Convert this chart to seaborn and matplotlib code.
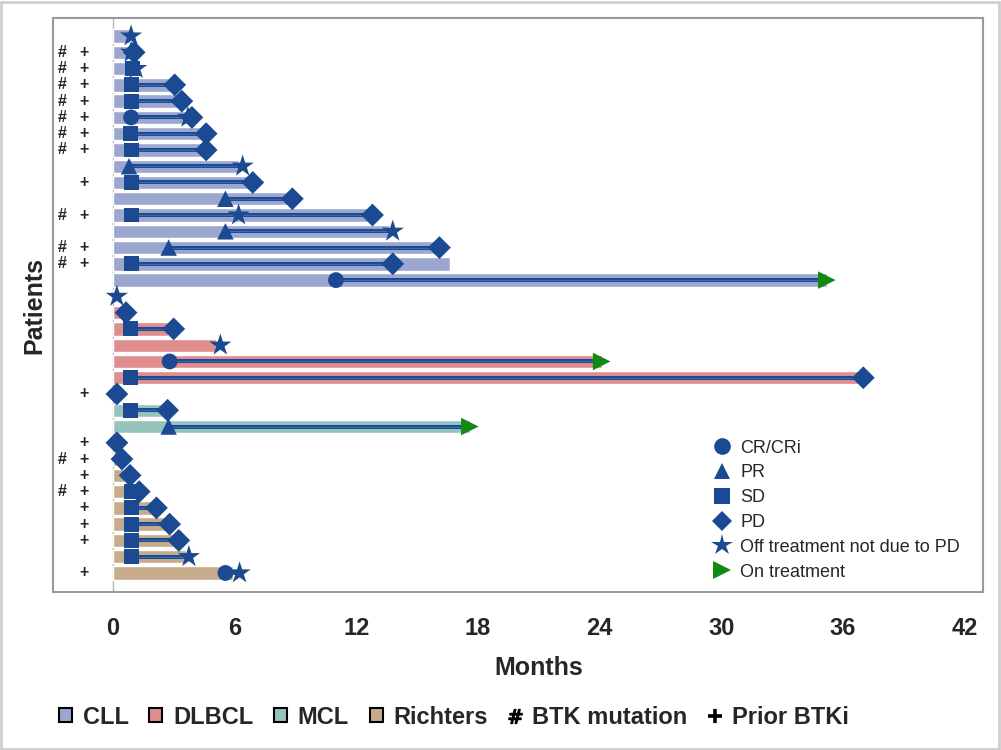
import matplotlib
matplotlib.use('Agg')
import numpy as np
import pandas as pd
import seaborn as sns
import matplotlib.pyplot as plt
from matplotlib.lines import Line2D
from matplotlib.patches import Patch, Rectangle

# === DATA (one entry per patient, top to bottom) ===
disease = ['CLL'] * 16 + ['DLBCL'] * 6 + ['MCL'] * 3 + ['Richters'] * 9
duration = [0.85, 0.9, 1.0, 2.9, 3.2, 3.7, 4.4, 4.5, 6.2, 6.7, 8.7, 12.6, 13.6, 15.9, 16.6, 35.2,
            0.1, 0.5, 2.7, 5.1, 24.1, 37.0,
            0.1, 2.5, 17.6,
            0.1, 0.3, 0.6, 1.1, 2.0, 2.6, 3.1, 3.6, 5.9]
nan = np.nan
resp_time = [nan, nan, 0.95, 0.9, 0.9, 0.9, 0.85, 0.9, 0.8, 0.9, 5.55, 0.9, 5.55, 2.75, 0.9, 11.0,
             nan, nan, 0.85, nan, 2.8, 0.85,
             nan, 0.85, 2.75,
             nan, nan, nan, 0.9, 0.9, 0.9, 0.9, 0.9, 5.55]
resp_type = ['', '', 'SD', 'SD', 'SD', 'CR', 'SD', 'SD', 'PR', 'SD', 'PR', 'SD', 'PR', 'PR', 'SD', 'CR',
             '', '', 'SD', '', 'CR', 'SD',
             '', 'SD', 'PR',
             '', '', '', 'SD', 'SD', 'SD', 'SD', 'SD', 'CR']
pd_time = [nan, 1.05, nan, 3.05, 3.4, 3.9, 4.6, 4.6, nan, 6.9, 8.85, 12.8, nan, 16.1, 13.8, nan,
           nan, 0.65, 3.0, nan, nan, 37.0,
           0.2, 2.7, nan,
           0.2, 0.45, 0.85, 1.3, 2.15, 2.8, 3.25, nan, nan]
off_time = [0.9, 0.9, 1.15, nan, nan, 3.7, nan, nan, 6.4, nan, nan, 6.2, 13.8, nan, nan, nan,
            0.2, nan, nan, 5.3, nan, nan,
            nan, nan, nan,
            nan, nan, nan, nan, nan, nan, nan, 3.75, 6.25]
on_time = [nan] * 15 + [35.2] + [nan] * 4 + [24.1] + [nan] * 3 + [17.6] + [nan] * 9
btk_mutation = [0, 1, 1, 1, 1, 1, 1, 1, 0, 0, 0, 1, 0, 1, 1, 0,
                0, 0, 0, 0, 0, 0,
                0, 0, 0,
                0, 1, 0, 1, 0, 0, 0, 0, 0]
prior_btki = [0, 1, 1, 1, 1, 1, 1, 1, 0, 1, 0, 1, 0, 1, 1, 0,
              0, 0, 0, 0, 0, 0,
              1, 0, 0,
              1, 1, 1, 1, 1, 1, 1, 0, 1]

disease_names = ['CLL', 'DLBCL', 'MCL', 'Richters']
disease_colors = ['#9CA7CF', '#E08D8D', '#97C3BD', '#C7AC8C']
response_labels = ['CR/CRi', 'PR', 'SD', 'PD', 'Off treatment not due to PD', 'On treatment']

dark_blue = '#1B4A92'
green = '#118A11'

df = pd.DataFrame({'patient': [f'P{i:02d}' for i in range(len(disease))],
                   'row': np.arange(len(disease)),
                   'disease': disease, 'duration': duration,
                   'resp_time': resp_time, 'resp_type': resp_type,
                   'pd_time': pd_time, 'off_time': off_time, 'on_time': on_time})

# events in long form for the markers
ev = []
for _, r in df.iterrows():
    if r['resp_type']:
        ev.append((r['row'], r['resp_time'], r['resp_type']))
    if not np.isnan(r['off_time']):
        ev.append((r['row'], r['off_time'], 'OFF'))
    if not np.isnan(r['pd_time']):
        ev.append((r['row'], r['pd_time'], 'PD'))
    if not np.isnan(r['on_time']):
        ev.append((r['row'], r['on_time'], 'ON'))
events = pd.DataFrame(ev, columns=['row', 'time', 'event'])

marker_map = {'CR': 'o', 'PR': '^', 'SD': 's', 'PD': 'D', 'OFF': '*', 'ON': '>'}
color_map = {'CR': dark_blue, 'PR': dark_blue, 'SD': dark_blue, 'PD': dark_blue, 'OFF': dark_blue, 'ON': green}
size_map = {'CR': 130, 'PR': 140, 'SD': 115, 'PD': 135, 'OFF': 280, 'ON': 160}

# === PLOT ===
sns.set_style('white')
plt.rcParams['font.family'] = ['Liberation Sans', 'DejaVu Sans']

fig, ax = plt.subplots(figsize=(10.01, 7.5), dpi=100)
fig.subplots_adjust(left=53 / 1001, right=983 / 1001, top=1 - 18 / 750, bottom=1 - 592 / 750)

ax.axvline(0, color='#b8b8b8', lw=1, zorder=0.5)

sns.barplot(data=df, x='duration', y='patient', hue='disease', hue_order=disease_names,
            palette=dict(zip(disease_names, disease_colors)), dodge=False, width=0.82,
            saturation=1, orient='h', legend=False, ax=ax, zorder=1)

# response -> end lines
for _, r in df.iterrows():
    if not r['resp_type']:
        continue
    end = np.nanmax([r['pd_time'], r['off_time'], r['on_time']])
    ax.plot([r['resp_time'], end], [r['row'], r['row']], color=dark_blue, lw=2.9,
            solid_capstyle='butt', zorder=2)
    ax.plot([r['resp_time'], end], [r['row'], r['row']], color='#3F68AC', lw=0.9,
            solid_capstyle='butt', zorder=2.1)

sns.scatterplot(data=events, x='time', y='row', hue='event', style='event', size='event',
                palette=color_map, markers=marker_map, sizes=size_map, linewidth=0,
                legend=False, ax=ax, zorder=3)

# BTK mutation / prior BTKi flags
for i in range(len(disease)):
    if btk_mutation[i]:
        ax.text(-2.5, i, '#', ha='center', va='center', fontsize=11.5, fontweight='bold')
    if prior_btki[i]:
        ax.text(-1.42, i, '+', ha='center', va='center', fontsize=11.5, fontweight='bold')

ax.set_xlim(-2.95, 42.9)
ax.set_ylim(34.17, -1.11)
ax.set_xticks(range(0, 43, 6))
ax.set_yticks([])
ax.tick_params(axis='x', direction='out', length=9, width=1, color='#888888',
               pad=9, labelsize=17)
for lab in ax.get_xticklabels():
    lab.set_fontweight('bold')
for sp in ax.spines.values():
    sp.set_color('#9a9a9a')
    sp.set_linewidth(1.5)

ax.set_xlabel('Months', fontsize=18, fontweight='bold')
ax.xaxis.set_label_coords(0.522, -0.112)
ax.set_ylabel('Patients', fontsize=18, fontweight='bold')
ax.yaxis.set_label_coords(-0.007, 0.5)

# response legend inside
resp_handles = [Line2D([], [], ls='none', marker=m, color=c, markersize=ms, markeredgewidth=0)
                for m, c, ms in zip(['o', '^', 's', 'D', '*', '>'],
                                    [dark_blue] * 5 + [green],
                                    [12, 12, 11, 10.5, 16, 13])]
ax.legend(resp_handles, response_labels, loc='upper left', bbox_to_anchor=(0.698, 0.281),
          frameon=False, fontsize=13, labelspacing=0.43, handletextpad=0.4,
          handlelength=1.2, borderpad=0)

# disease / flag legend below
bottom_handles = [Patch(facecolor=c, edgecolor='black', lw=1.5) for c in disease_colors]
bottom_handles += [Line2D([], [], ls='none', marker='$\\#$', color='black', markersize=10),
                   Line2D([], [], ls='none', marker='+', color='black', markersize=10,
                          markeredgewidth=2.6)]
bottom_labels = disease_names + ['BTK mutation', 'Prior BTKi']
leg = fig.legend(bottom_handles, bottom_labels, loc='center left',
                 bbox_to_anchor=(59 / 1001, 1 - 717 / 750), ncol=6, frameon=False,
                 prop={'size': 17, 'weight': 'bold'}, handlelength=0.55, handleheight=0.55,
                 handletextpad=0.45, columnspacing=0.88, borderpad=0, borderaxespad=0)

fig.patches.append(Rectangle((0.001, 0.002), 0.997, 0.996, transform=fig.transFigure,
                             fill=False, edgecolor='#cfcfcf', lw=2))

fig.savefig('out.png', dpi=100)
